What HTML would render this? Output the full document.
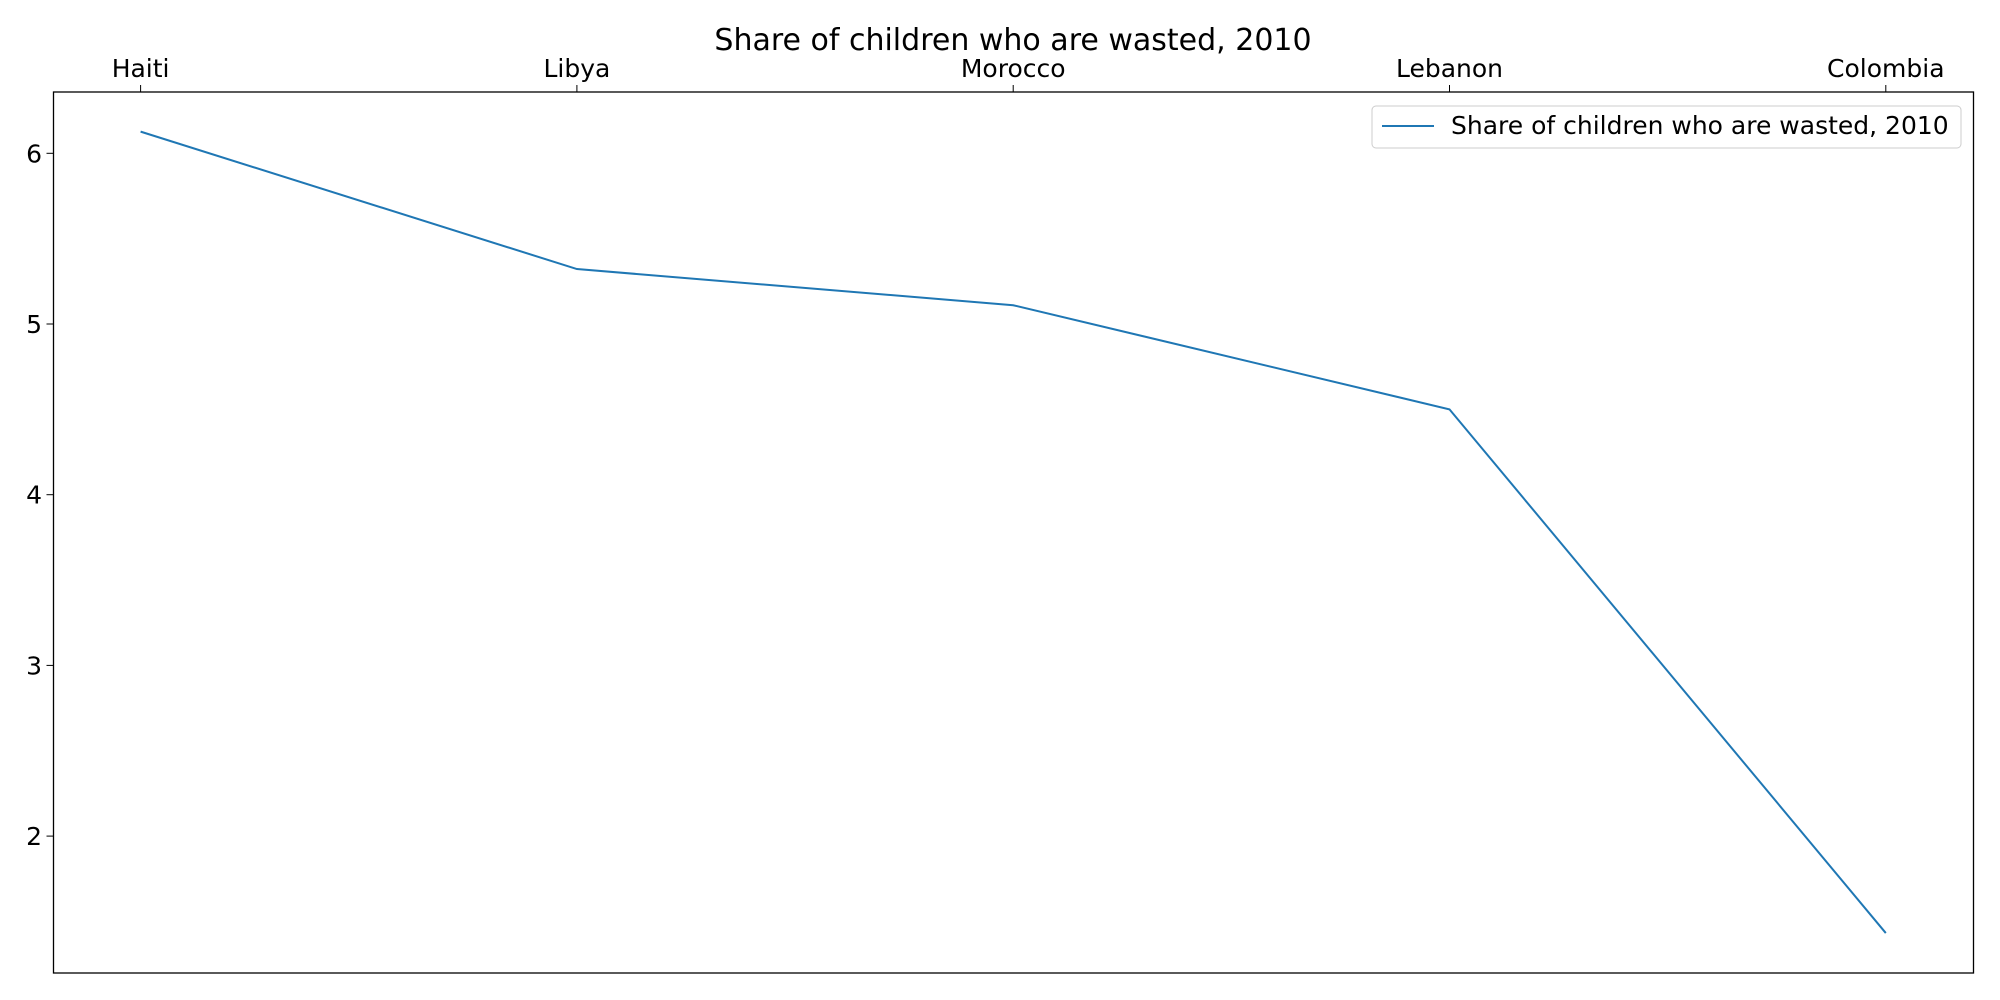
<!DOCTYPE html>
<html><head><meta charset="utf-8"><style>
body{margin:0;background:#fff}
svg{display:block;font-family:"DejaVu Sans","Liberation Sans",sans-serif}
</style></head><body>
<svg id="chart" width="2000" height="1000">
<text x="1013" y="50" font-size="30" text-anchor="middle">Share of children who are wasted, 2010</text>
<rect x="53.5" y="92" width="1920" height="881" fill="none" stroke="#000" stroke-width="1.3"/>
<g id="xt"></g><g id="yt"></g>
<polyline id="line" fill="none" stroke="#1f77b4" stroke-width="2"/>
<g>
<rect x="1372" y="106" width="589" height="42" rx="4" fill="#fff" stroke="#ccc"/>
<line x1="1382" y1="126" x2="1434" y2="126" stroke="#1f77b4" stroke-width="2"/>
<text x="1451" y="134" font-size="25">Share of children who are wasted, 2010</text>
</g>
</svg>
<script>
const categories=["Haiti","Libya","Morocco","Lebanon","Colombia"];
const values=[6.127,5.322,5.11,4.50,1.432];
const yTicks=[2,3,4,5,6];
const NS="http://www.w3.org/2000/svg";
const x0=140.6,dx=436.3;
function xs(i){return x0+i*dx;}
function ys(v){return 153.3+(6-v)*170.7;}
const xt=document.getElementById('xt'),yt=document.getElementById('yt');
categories.forEach((c,i)=>{
 const l=document.createElementNS(NS,'line');
 l.setAttribute('x1',xs(i));l.setAttribute('x2',xs(i));l.setAttribute('y1',92);l.setAttribute('y2',85);l.setAttribute('stroke','#000');
 
 
 xt.appendChild(l);
 const t=document.createElementNS(NS,'text');
 t.setAttribute('x',xs(i));t.setAttribute('y',77);t.setAttribute('font-size','25');t.setAttribute('text-anchor','middle');
 t.textContent=c;
 
 
 xt.appendChild(t);
});
yTicks.forEach(v=>{
 const l=document.createElementNS(NS,'line');
 l.setAttribute('x1',53.5);l.setAttribute('x2',46.5);l.setAttribute('y1',ys(v));l.setAttribute('y2',ys(v));l.setAttribute('stroke','#000');
 
 
 yt.appendChild(l);
 const t=document.createElementNS(NS,'text');
 t.setAttribute('x',42);t.setAttribute('y',ys(v)+9);t.setAttribute('font-size','25');t.setAttribute('text-anchor','end');
 t.textContent=v;
 
 
 yt.appendChild(t);
});
document.getElementById('line').setAttribute('points',values.map((v,i)=>xs(i)+','+ys(v)).join(' '));
</script>
</body></html>
